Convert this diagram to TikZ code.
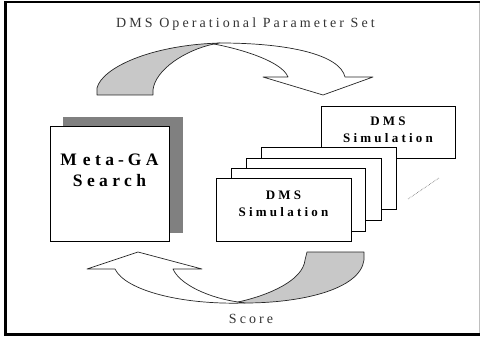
\documentclass[tikz,border=0pt]{standalone}
\usepackage{fontspec}
\setmainfont{Liberation Serif}
\newfontfamily\spacedfont[LetterSpace=25]{Liberation Serif}
\newfontfamily\titlefont[LetterSpace=22]{Liberation Serif}
\usetikzlibrary{positioning}

\definecolor{arrowgray}{RGB}{200,200,200}
\definecolor{shadowgray}{RGB}{128,128,128}

\tikzset{
  simbox/.style={draw, fill=white, line width=0.8pt, inner sep=0pt,
    minimum width=135pt, minimum height=62pt},
  gabox/.style={draw, fill=white, line width=0.8pt, inner sep=0pt,
    minimum width=119pt, minimum height=115pt},
  simtext/.style={align=center, font=\spacedfont\bfseries\fontsize{13}{17}\selectfont},
  gatext/.style={align=center, font=\spacedfont\bfseries\fontsize{17.5}{21}\selectfont},
  plaintext/.style={font=\titlefont\fontsize{14}{16}\selectfont, text=black!80},
  blockarrow/.style={draw=black!85, line width=0.7pt, line join=round}
}

\begin{document}
\begin{tikzpicture}[x=1pt, y=-1pt]
\useasboundingbox (0,0) rectangle (481,339);

% frame
\draw[line width=2pt] (4,1.8) -- (480,1.8);
\draw[line width=3pt] (5.5,0.8) -- (5.5,336);
\draw[line width=3pt] (4,334.5) -- (480,334.5);
\draw[black!25, line width=0.5pt] (479.5,2.8) -- (479.5,333);

% labels
\node[plaintext] (param) at (245.5,24) {DMS Operational Parameter Set};
\node[plaintext] (score) at (251,319) {Score};

% Meta-GA box with its shadow
\node[fill=shadowgray, minimum width=120pt, minimum height=116pt, inner sep=0pt] (shadow) at (123,175) {};
\node[gabox] (search) at (109.5,183.5) {};
\node[gatext] at ([yshift=13pt]search.center) {M\kern6pt eta\kern4pt-\kern4pt GA\\Search};

% stack of simulations
\node[simbox, minimum width=134pt, minimum height=52pt] (simback) at (388,132) {};
\node[simtext] at ([yshift=2pt]simback.center) {DMS\\Simulation};
\node[simbox] (sim3) at (328.5,178) {};
\node[simbox] (sim2) at (313.5,189) {};
\node[simbox, minimum width=134pt, minimum height=63pt] (sim1) at (298,199.5) {};
\node[simbox, minimum height=63pt] (sim0) at (283.5,209.5) {};
\node[simtext] at ([yshift=5.5pt]sim0.center) {DMS\\Simulation};

% dots between the stack and the last one
\coordinate (dotsA) at (408,199);
\coordinate (dotsB) at (439,178);
\draw[densely dotted, black!60, line width=0.6pt] (dotsA) -- (dotsB);

% upper curved arrow: parameter set
\filldraw[blockarrow, fill=arrowgray] (97,95) -- (97,88)
  .. controls (102,68) and (150,45) .. (220,43) -- (214,44)
  .. controls (185,50) and (155,70) .. (153,90) -- (153,95) -- cycle;
\filldraw[blockarrow, fill=white] (214,44)
  .. controls (245,50) and (282,62) .. (288,77)
  -- (263,77) -- (323,95) -- (373,77) -- (345,77)
  .. controls (340,55) and (290,43) .. (220,43) -- cycle;

% lower curved arrow: score
\filldraw[blockarrow, fill=arrowgray] (307,252) -- (364,252) -- (364,260)
  .. controls (360,290) and (300,303) .. (245,303) -- (238,302)
  .. controls (270,295) and (303,280) .. (305,260) -- cycle;
\filldraw[blockarrow, fill=white] (245,303)
  .. controls (180,305) and (125,290) .. (115,269)
  -- (87,269) -- (138,252) -- (202,269) -- (173,269)
  .. controls (180,285) and (210,298) .. (238,302) -- cycle;
\end{tikzpicture}
\end{document}
